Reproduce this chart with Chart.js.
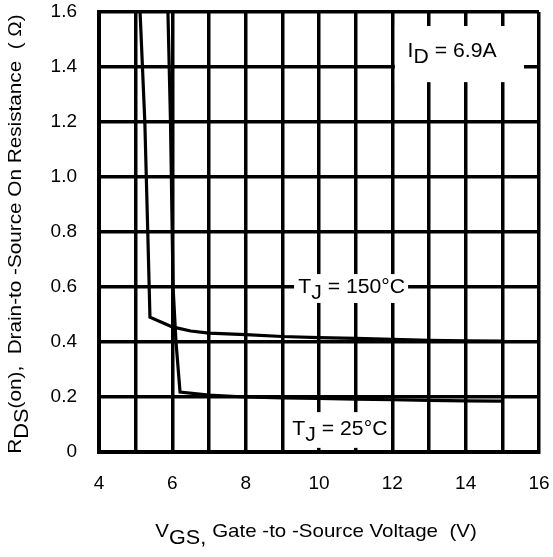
<!DOCTYPE html>
<html>
<head>
<meta charset="utf-8">
<script src="https://cdn.jsdelivr.net/npm/chart.js@4"></script>
<style>
html,body{margin:0;padding:0;background:#fff;}
#wrap{width:553px;height:557px;}
</style>
</head>
<body>
<div id="wrap"><canvas id="c" width="553" height="557"></canvas></div>
<script>
// Data
const vgs150 = [5.12, 5.25, 5.33, 5.39, 6.0, 6.5, 7.0, 8.0, 9.0, 10.0, 11.0, 12.0, 13.0, 14.0, 15.0];
const rds150 = [1.60, 1.20, 0.80, 0.49, 0.455, 0.44, 0.432, 0.427, 0.42, 0.416, 0.413, 0.41, 0.406, 0.404, 0.403];
const vgs25 = [5.88, 5.95, 6.02, 6.10, 6.21, 7.0, 8.0, 9.0, 10.0, 11.0, 12.0, 13.0, 14.0, 15.0];
const rds25 = [1.60, 1.20, 0.60, 0.40, 0.218, 0.207, 0.200, 0.197, 0.195, 0.192, 0.19, 0.188, 0.186, 0.185];
const xTicks = [4, 6, 8, 10, 12, 14, 16];
const yTicks = [0, 0.2, 0.4, 0.6, 0.8, 1.0, 1.2, 1.4, 1.6];
// annotation text anchors (data units): centre x, baseline y; white box [x0, x1, y0, y1]
const labels = [
  {x: 13.63, y: 1.436, parts: [["I", false], ["D", true], [" = 6.9A", false]], box: [12.07, 15.59, 1.345, 1.549]},
  {x: 10.89, y: 0.578, parts: [["T", false], ["J", true], [" = 150°C", false]], box: [9.32, 12.43, 0.542, 0.647]},
  {x: 10.57, y: 0.062, parts: [["T", false], ["J", true], [" = 25°C", false]], box: [9.18, 11.96, 0.015, 0.145]}
];
const xTitle = [["V", false], ["GS, ", true], ["Gate -to -Source Voltage  (V)", false]];
const yTitle = [["R", false], ["DS", true], ["(on),  Drain-to -Source On Resistance  ( Ω)", false]];

const FONT = '"Liberation Sans", Arial, Helvetica, sans-serif';

function richWidth(ctx, parts, size, subSize) {
  let w = 0;
  for (const [t, sub] of parts) {
    ctx.font = (sub ? subSize : size) + 'px ' + FONT;
    w += ctx.measureText(t).width;
  }
  return w;
}
// draws rich text centred on cx at baseline y with horizontal stretch sx
function drawRichCentered(ctx, parts, cx, y, size, subSize, subDrop, sx) {
  const w = richWidth(ctx, parts, size, subSize);
  ctx.save();
  ctx.translate(cx, y);
  ctx.scale(sx, 1);
  let x = -w / 2;
  for (const [t, sub] of parts) {
    ctx.font = (sub ? subSize : size) + 'px ' + FONT;
    ctx.fillText(t, x, sub ? subDrop : 0);
    x += ctx.measureText(t).width;
  }
  ctx.restore();
}

const textPlugin = {
  id: 'textPlugin',
  afterDraw(chart) {
    const ctx = chart.ctx;
    const xs = chart.scales.x, ys = chart.scales.y;
    ctx.save();
    ctx.textBaseline = 'alphabetic';
    ctx.textAlign = 'left';
    for (const l of labels) {
      const x0 = xs.getPixelForValue(l.box[0]), x1 = xs.getPixelForValue(l.box[1]);
      const y0 = ys.getPixelForValue(l.box[3]), y1 = ys.getPixelForValue(l.box[2]);
      ctx.fillStyle = '#fff';
      ctx.fillRect(x0, y0, x1 - x0, y1 - y0);
      ctx.fillStyle = '#000';
      drawRichCentered(ctx, l.parts, xs.getPixelForValue(l.x), ys.getPixelForValue(l.y), 20, 20, 6, 1.06);
    }
    ctx.fillStyle = '#000';
    const cxT = (chart.chartArea.left + chart.chartArea.right) / 2 - 3;
    drawRichCentered(ctx, xTitle, cxT, 537, 19, 20, 7, 1.08);
    ctx.translate(21, (chart.chartArea.top + chart.chartArea.bottom) / 2 + 2);
    ctx.rotate(-Math.PI / 2);
    drawRichCentered(ctx, yTitle, 0, 0, 19, 20, 7, 1.09);
    ctx.restore();
  }
};

new Chart(document.getElementById('c'), {
  type: 'scatter',
  data: {
    datasets: [
      {data: vgs150.map((v, i) => ({x: v, y: rds150[i]})), showLine: true, borderColor: '#000', borderWidth: 3.2, pointRadius: 0, tension: 0},
      {data: vgs25.map((v, i) => ({x: v, y: rds25[i]})), showLine: true, borderColor: '#000', borderWidth: 3.2, pointRadius: 0, tension: 0}
    ]
  },
  options: {
    responsive: false,
    animation: false,
    events: [],
    layout: {padding: {top: 12, right: 14, left: 0, bottom: 0}},
    plugins: {legend: {display: false}, tooltip: {enabled: false}},
    scales: {
      x: {
        type: 'linear', min: 4, max: 16,
        afterFit(s) { s.height = 105; s.paddingLeft = 0; s.paddingRight = 0; },
        grid: {color: '#000', lineWidth: 3.5, drawTicks: false},
        border: {color: '#000', width: 4},
        ticks: {
          stepSize: 1, padding: 20, color: '#000', maxRotation: 0, autoSkip: false,
          font: {family: FONT, size: 19},
          callback: v => xTicks.includes(v) ? String(v) : ''
        }
      },
      y: {
        type: 'linear', min: 0, max: 1.6,
        afterFit(s) { s.width = 99; s.paddingTop = 0; s.paddingBottom = 0; },
        grid: {color: '#000', lineWidth: 3.5, drawTicks: false},
        border: {color: '#000', width: 4},
        ticks: {
          stepSize: 0.2, padding: 22, color: '#000', autoSkip: false,
          font: {family: FONT, size: 19},
          callback: v => {
            const r = Math.round(v * 10) / 10;
            if (!yTicks.some(t => Math.abs(t - r) < 1e-6)) return '';
            return r === 0 ? '0' : r.toFixed(1);
          }
        }
      }
    }
  },
  plugins: [textPlugin]
});
</script>
</body>
</html>
